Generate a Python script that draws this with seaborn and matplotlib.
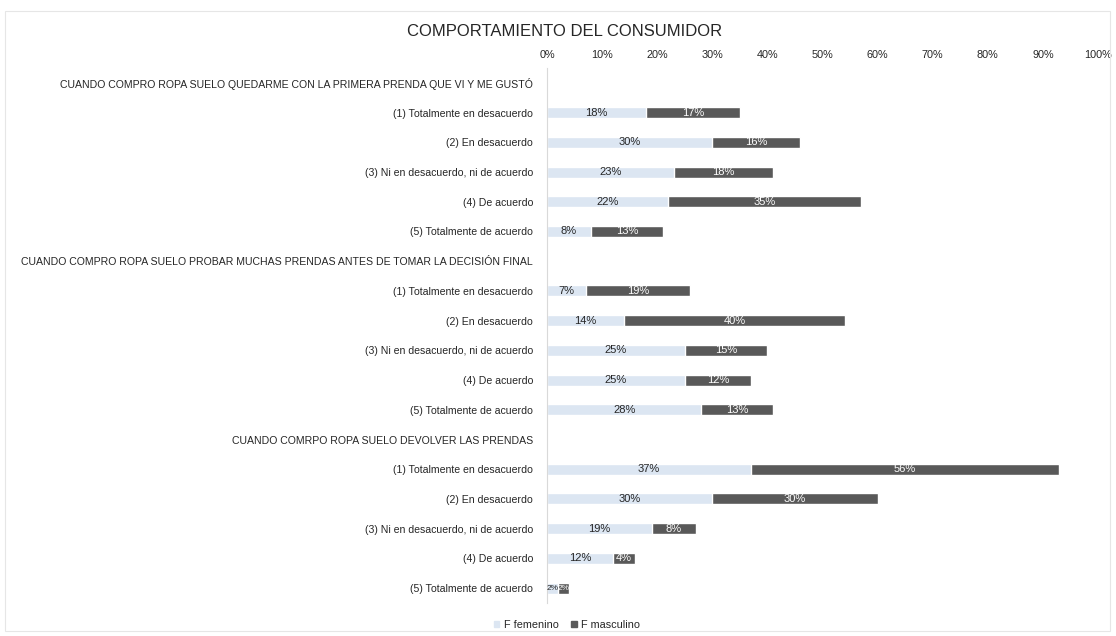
import matplotlib
matplotlib.use("Agg")
import matplotlib.pyplot as plt
import matplotlib.patches as mpatches
import seaborn as sns
import pandas as pd
import numpy as np

title = "COMPORTAMIENTO DEL CONSUMIDOR"
headers = [
    "CUANDO COMPRO ROPA SUELO QUEDARME CON LA PRIMERA PRENDA QUE VI Y ME GUSTÓ",
    "CUANDO COMPRO ROPA SUELO PROBAR MUCHAS PRENDAS ANTES DE TOMAR LA DECISIÓN FINAL",
    "CUANDO COMRPO ROPA SUELO DEVOLVER LAS PRENDAS",
]
items = [
    "(1) Totalmente en desacuerdo",
    "(2) En desacuerdo",
    "(3) Ni en desacuerdo, ni de acuerdo",
    "(4) De acuerdo",
    "(5) Totalmente de acuerdo",
]
femenino = [
    [18, 30, 23, 22, 8],
    [7, 14, 25, 25, 28],
    [37, 30, 19, 12, 2],
]
masculino = [
    [17, 16, 18, 35, 13],
    [19, 40, 15, 12, 13],
    [56, 30, 8, 4, 2],
]
xticks = [0, 10, 20, 30, 40, 50, 60, 70, 80, 90, 100]

# build table
labels, fem, mas = [], [], []
for h, fv, mv in zip(headers, femenino, masculino):
    labels.append(h); fem.append(np.nan); mas.append(np.nan)
    for it, f, m in zip(items, fv, mv):
        labels.append(it); fem.append(f); mas.append(m)
n = len(labels)
df = pd.DataFrame({"row": list(range(n)), "label": labels,
                   "fem": fem, "mas": mas})
df["total"] = df["fem"] + df["mas"]

sns.set_theme(style="white")
plt.rcParams["font.family"] = ["Liberation Sans", "DejaVu Sans"]

fig = plt.figure(figsize=(11.16, 6.36), dpi=100)
ax = fig.add_axes([547/1116, 1 - 603/636, (1098-547)/1116, (603-68)/636])

c_fem = "#dce6f2"
c_mas = "#595959"
bw = 0.37
sns.barplot(data=df, y="row", x="total", orient="h", order=list(range(n)),
            color=c_mas, width=bw, ax=ax, saturation=1, errorbar=None)
sns.barplot(data=df, y="row", x="fem", orient="h", order=list(range(n)),
            color=c_fem, width=bw, ax=ax, saturation=1, errorbar=None)

for i in range(n):
    f, m = df["fem"][i], df["mas"][i]
    if np.isnan(f):
        continue
    fs_f = 8 if f >= 4 else 6
    fs_m = 8 if m >= 4 else 6
    ax.text(f / 2, i, f"{int(f)}%", ha="center", va="center",
            fontsize=fs_f, color="#262626")
    ax.text(f + m / 2, i, f"{int(m)}%", ha="center", va="center",
            fontsize=fs_m, color="white")

ax.set_xlim(0, 100)
ax.set_ylim(n - 0.5, -0.5)
ax.set_xticks(xticks)
ax.set_xticklabels([f"{t}%" for t in xticks], fontsize=7.8, color="#262626")
ax.xaxis.tick_top()
ax.tick_params(axis="x", length=0, pad=6)
ax.set_yticks(range(n))
ax.set_yticklabels(labels, fontsize=7.6, color="#262626")
ax.tick_params(axis="y", length=0, pad=10)
ax.set_xlabel("")
ax.set_ylabel("")
for s in ["top", "right", "bottom"]:
    ax.spines[s].set_visible(False)
ax.spines["left"].set_color("#d9d9d9")
ax.spines["left"].set_linewidth(0.8)

fig.text(565/1116, 1 - 31/636, title, ha="center", va="center",
         fontsize=12, color="#262626")

handles = [mpatches.Patch(color=c_fem, label="F femenino"),
           mpatches.Patch(color=c_mas, label="F masculino")]
fig.legend(handles=handles, loc="center", bbox_to_anchor=(567/1116, 1 - 625/636),
           ncol=2, frameon=False, fontsize=7.8, handlelength=0.5,
           handleheight=0.5, handletextpad=0.4, columnspacing=1.2)

fig.patches.append(mpatches.Rectangle((5/1116, 5/636), 1105/1116, 620/636,
                                      transform=fig.transFigure, fill=False,
                                      edgecolor="#e6e6e6", linewidth=0.8))

fig.savefig("out.png", dpi=100)
